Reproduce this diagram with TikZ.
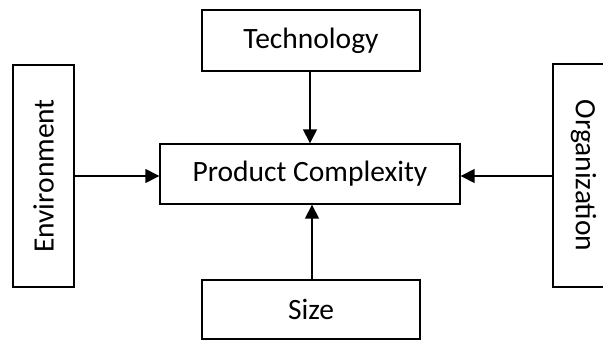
\documentclass[tikz,border=0pt]{standalone}
\usepackage{fontspec}
\setmainfont{Carlito}
\usetikzlibrary{arrows.meta}
\begin{document}
\begin{tikzpicture}[x=1pt,y=1pt,
  box/.style={draw=black,line width=1.4pt,fill=white,inner sep=0pt,
    font=\fontsize{29.5}{31}\selectfont},
  link/.style={line width=1.6pt,-{Triangle[length=14pt,width=14pt]}}]
  \useasboundingbox (0,0) rectangle (603,-341);
  \begin{scope}
    \clip (0,0) rectangle (603,-341);
    % input factors around the central box
    \node[box,minimum width=218pt,minimum height=61pt] (tech) at (311,-40.5) {Technology};
    \node[box,minimum width=300pt,minimum height=60pt] (prod) at (310,-174) {Product Complexity};
    \node[box,minimum width=218pt,minimum height=59pt] (size) at (311,-309.5) {Size};
    \node[box,minimum width=61pt,minimum height=222pt] (env) at (43.5,-176) {\rotatebox{90}{Environment}};
    \node[box,minimum width=61pt,minimum height=223pt] (org) at (583.5,-175.5) {\rotatebox{-90}{Organization}};
    % influences pointing into the central box
    \draw[link] (tech.south -| prod.north) -- (prod.north);
    \draw[link] (size.north) ++(1,0) coordinate (sz) -- (sz |- prod.south);
    \draw[link] (env.east |- prod.west) ++(0,-2) coordinate (e) -- (e -| prod.west);
    \draw[link] (org.west |- prod.east) ++(0,-2) coordinate (o) -- (o -| prod.east);
  \end{scope}
\end{tikzpicture}
\end{document}
